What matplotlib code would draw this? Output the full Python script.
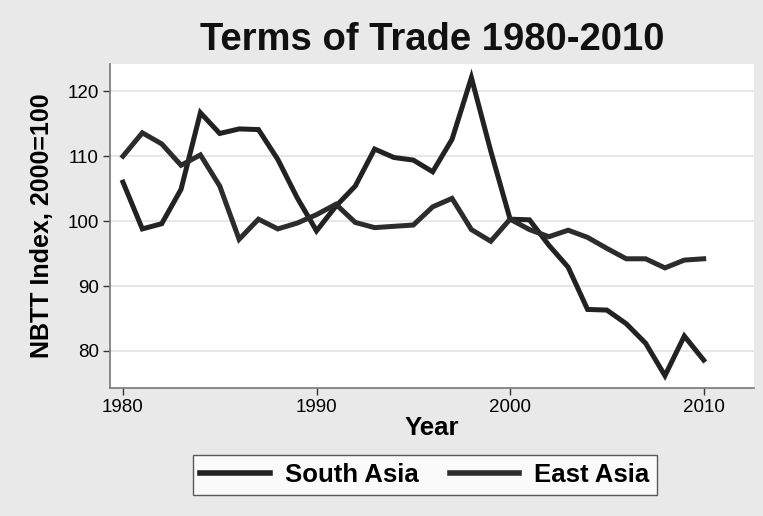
import matplotlib
matplotlib.use("Agg")
import matplotlib.pyplot as plt

plt.rcParams['font.family'] = ['Liberation Sans', 'DejaVu Sans']

years = list(range(1980, 2011))
south_asia = [106.0, 98.8, 99.6, 104.9, 116.7, 113.5, 114.2, 114.1, 109.5, 103.6,
              98.5, 102.3, 105.4, 111.1, 109.8, 109.4, 107.6, 112.6, 122.1, 110.8,
              100.3, 100.2, 96.3, 92.9, 86.4, 86.3, 84.2, 81.2, 76.2, 82.3, 78.6]
east_asia = [110.0, 113.6, 111.9, 108.6, 110.2, 105.4, 97.2, 100.3, 98.8, 99.7,
             101.0, 102.6, 99.8, 99.0, 99.2, 99.4, 102.2, 103.5, 98.7, 96.9,
             100.3, 98.7, 97.6, 98.6, 97.5, 95.8, 94.2, 94.2, 92.8, 94.0, 94.2]
x_ticks = [1980, 1990, 2000, 2010]
y_ticks = [80, 90, 100, 110, 120]

W, H = 763, 516
fig = plt.figure(figsize=(W / 100, H / 100), dpi=100)
fig.patch.set_facecolor('#e9e9e9')

# plot area in pixels: left 110, right 754, top 64, bottom 388
ax = fig.add_axes([110 / W, 1 - 388 / H, 644 / W, 324 / H])
ax.set_facecolor('white')

ax.plot(years, south_asia, color='#222222', lw=3.6, label='South Asia',
        solid_joinstyle='miter', zorder=3)
ax.plot(years, east_asia, color='#2c2c2c', lw=3.6, label='East Asia',
        solid_joinstyle='miter', zorder=3)

ax.set_xlim(1979.33, 2012.6)
ax.set_ylim(74.3, 124.2)
ax.set_xticks(x_ticks)
ax.set_yticks(y_ticks)
ax.grid(axis='y', color='#e3e3e3', lw=1.2)
ax.set_axisbelow(True)

for s in ['top', 'right']:
    ax.spines[s].set_visible(False)
for s in ['left', 'bottom']:
    ax.spines[s].set_color('#777777')
    ax.spines[s].set_linewidth(1.2)
ax.tick_params(direction='out', length=5, width=1, color='#333333',
               labelsize=13.5, pad=3)

ax.set_ylabel('NBTT Index, 2000=100', fontsize=18, fontweight='bold', labelpad=10)
ax.set_xlabel('Year', fontsize=18.5, fontweight='bold', labelpad=0)
fig.text(432 / W, 1 - 40 / H, 'Terms of Trade 1980-2010', ha='center', va='center',
         fontsize=27.5, fontweight='bold', color='#111111')

leg = fig.legend(loc='center', bbox_to_anchor=(425 / W, 1 - 475 / H), ncol=2,
                 frameon=True, fancybox=False, prop={'size': 18.5, 'weight': 'bold'},
                 handlelength=2.7, handletextpad=0.6, columnspacing=1.2,
                 borderpad=0.3, borderaxespad=0)
leg.get_frame().set_edgecolor('#333333')
leg.get_frame().set_linewidth(1.0)
for ln in leg.get_lines():
    ln.set_linewidth(4)

fig.savefig('out.png', dpi=100, facecolor=fig.get_facecolor())
